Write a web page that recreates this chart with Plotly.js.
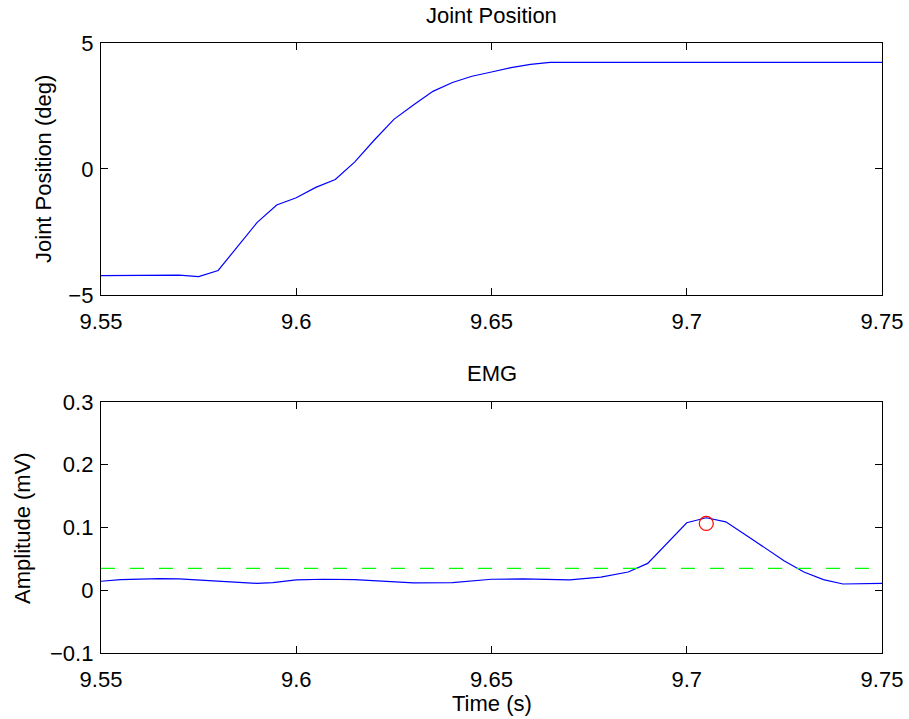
<!DOCTYPE html>
<html>
<head>
<meta charset="utf-8">
<script src="https://cdn.plot.ly/plotly-3.0.1.min.js"></script>
<style>html,body{margin:0;padding:0;background:#fff}#chart{width:909px;height:719px}</style>
</head>
<body>
<div id="chart"></div>
<script>
// Joint position (deg) vs time (s)
const jointTime = [9.55, 9.56, 9.565, 9.57, 9.575, 9.58, 9.59, 9.595, 9.60, 9.605, 9.61, 9.615, 9.62, 9.625, 9.63, 9.635, 9.64, 9.645, 9.65, 9.655, 9.66, 9.665, 9.70, 9.75];
const jointPos  = [-4.23, -4.23, -4.24, -4.21, -4.27, -4.03, -2.12, -1.43, -1.14, -0.73, -0.42, 0.28, 1.15, 1.97, 2.54, 3.08, 3.43, 3.68, 3.85, 4.02, 4.15, 4.23, 4.23, 4.23];

// EMG amplitude (mV) vs time (s)
const emgTime = [9.55, 9.555, 9.565, 9.57, 9.59, 9.594, 9.60, 9.607, 9.615, 9.63, 9.64, 9.65, 9.658, 9.67, 9.678, 9.685, 9.69, 9.70, 9.705, 9.71, 9.715, 9.72, 9.725, 9.73, 9.735, 9.74, 9.75];
const emgAmp  = [0.0143, 0.017, 0.0186, 0.018, 0.011, 0.012, 0.0164, 0.0175, 0.017, 0.0117, 0.012, 0.0175, 0.018, 0.0164, 0.021, 0.029, 0.0428, 0.1075, 0.1155, 0.109, 0.0886, 0.068, 0.0467, 0.029, 0.017, 0.010, 0.011];

// Threshold (dashed) and detected peak (circle)
const thresholdX = [9.55, 9.75];
const thresholdY = [0.0348, 0.0348];
const peakTime = [9.705];
const peakAmp = [0.1065];

const xTicks = [9.55, 9.6, 9.65, 9.7, 9.75];
const xTickText = ['9.55', '9.6', '9.65', '9.7', '9.75'];
const yTicksTop = [-5, 0, 5];
const yTickTextTop = ['\u22125', '0', '5'];
const yTicksBot = [-0.1, 0, 0.1, 0.2, 0.3];
const yTickTextBot = ['\u22120.1', '0', '0.1', '0.2', '0.3'];

const FONT = 'Liberation Sans, Arial, Helvetica, sans-serif';

const traces = [
  {x: jointTime, y: jointPos, xaxis: 'x', yaxis: 'y', mode: 'lines', line: {color: '#0000ff', width: 1.2}},
  {x: emgTime, y: emgAmp, xaxis: 'x2', yaxis: 'y2', mode: 'lines', line: {color: '#0000ff', width: 1.2}},
  {x: thresholdX, y: thresholdY, xaxis: 'x2', yaxis: 'y2', mode: 'lines', line: {color: '#00ff00', width: 1.2, dash: '14px,15px'}},
  {x: peakTime, y: peakAmp, xaxis: 'x2', yaxis: 'y2', mode: 'markers', marker: {symbol: 'circle-open', size: 14, color: '#ff0000', line: {width: 1.2, color: '#ff0000'}}}
];

const axisCommon = {
  showline: true, linecolor: '#000', linewidth: 1.2, mirror: 'ticks',
  ticks: 'inside', ticklen: 7, tickcolor: '#000', tickwidth: 1,
  showgrid: false, zeroline: false,
  tickfont: {family: FONT, size: 22, color: '#000'}
};

const layout = {
  width: 909, height: 719,
  margin: {l: 101, r: 27, t: 43, b: 66},
  paper_bgcolor: '#fff', plot_bgcolor: '#fff',
  showlegend: false,
  xaxis: Object.assign({}, axisCommon, {domain: [0, 1], anchor: 'y', range: [9.55, 9.75], tickvals: xTicks, ticktext: xTickText, ticklabelstandoff: 6}),
  yaxis: Object.assign({}, axisCommon, {domain: [0.587, 1], anchor: 'x', range: [-5, 5], tickvals: yTicksTop, ticktext: yTickTextTop, ticklabelstandoff: 2}),
  xaxis2: Object.assign({}, axisCommon, {domain: [0, 1], anchor: 'y2', range: [9.55, 9.75], tickvals: xTicks, ticktext: xTickText, ticklabelstandoff: 6}),
  yaxis2: Object.assign({}, axisCommon, {domain: [0, 0.4115], anchor: 'x2', range: [-0.1, 0.3], tickvals: yTicksBot, ticktext: yTickTextBot, ticklabelstandoff: 2}),
  annotations: [
    {text: 'Joint Position', xref: 'paper', yref: 'paper', x: 0.5, y: 1.0443, xanchor: 'center', yanchor: 'middle', showarrow: false, font: {family: FONT, size: 22, color: '#000'}},
    {text: 'EMG', xref: 'paper', yref: 'paper', x: 0.5, y: 0.4574, xanchor: 'center', yanchor: 'middle', showarrow: false, font: {family: FONT, size: 22, color: '#000'}},
    {text: 'Joint Position (deg)', xref: 'paper', yref: 'paper', x: -0.0743, y: 0.7934, xanchor: 'center', yanchor: 'middle', textangle: -90, showarrow: false, font: {family: FONT, size: 22, color: '#000'}},
    {text: 'Amplitude (mV)', xref: 'paper', yref: 'paper', x: -0.0999, y: 0.205, xanchor: 'center', yanchor: 'middle', textangle: -90, showarrow: false, font: {family: FONT, size: 22, color: '#000'}},
    {text: 'Time (s)', xref: 'paper', yref: 'paper', x: 0.5, y: -0.082, xanchor: 'center', yanchor: 'middle', showarrow: false, font: {family: FONT, size: 22, color: '#000'}}
  ]
};

Plotly.newPlot('chart', traces, layout, {displayModeBar: false, staticPlot: true});
</script>
</body>
</html>
